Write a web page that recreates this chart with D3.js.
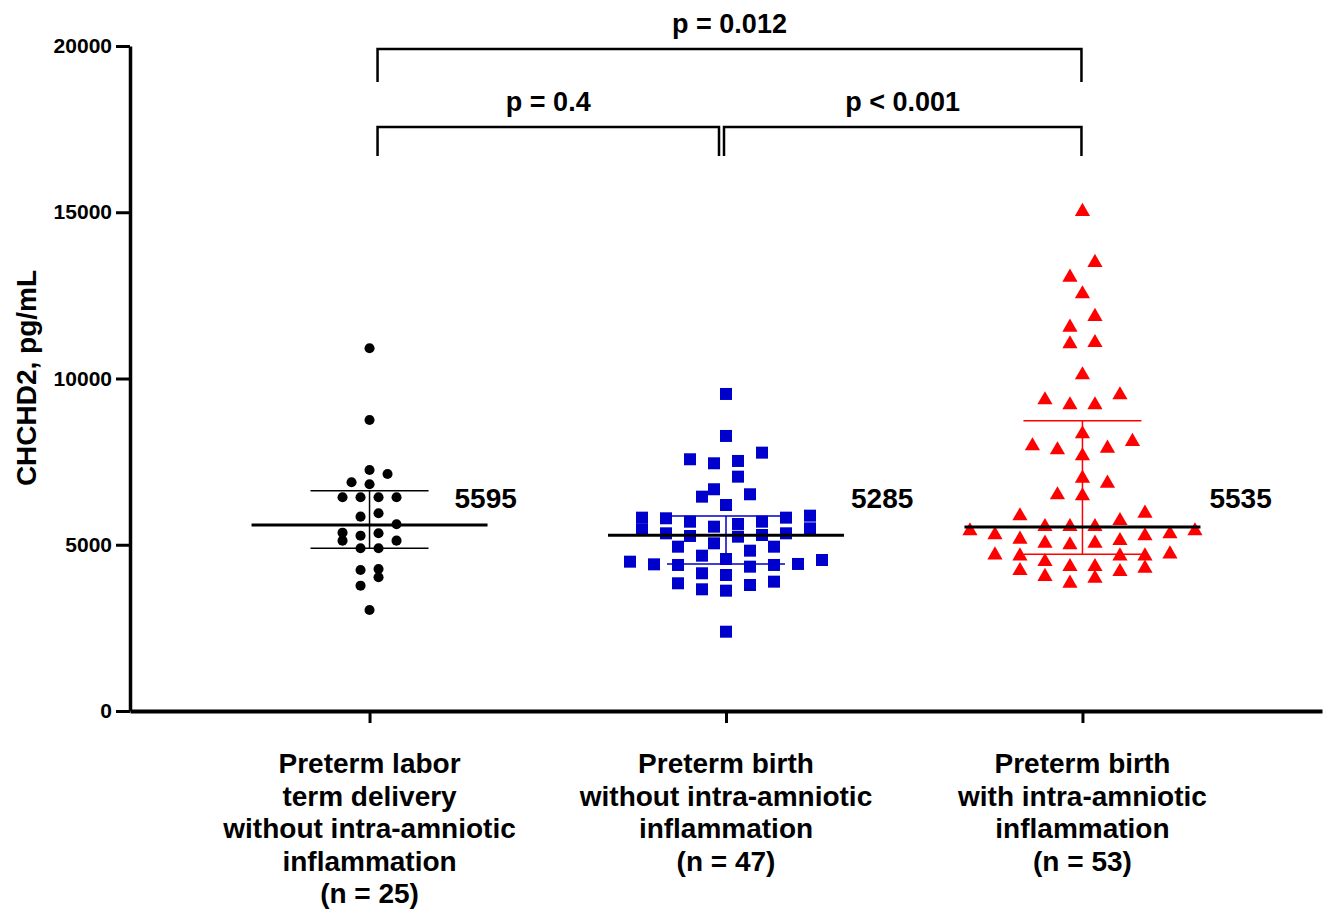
<!DOCTYPE html>
<html>
<head>
<meta charset="utf-8">
<script src="https://cdn.jsdelivr.net/npm/d3@7"></script>
<style>
  body { margin: 0; background: #fff; }
  text { font-family: "Liberation Sans", Arial, sans-serif; font-weight: bold; fill: #000; }
</style>
</head>
<body>
<div id="svg"></div>
<script>
// groups on the x axis
let groups = ['term', 'pretermNoIAI', 'pretermIAI'];
let groupLabels = [
  ['Preterm labor', 'term delivery', 'without intra-amniotic', 'inflammation', '(n = 25)'],
  ['Preterm birth', 'without intra-amniotic', 'inflammation', '(n = 47)'],
  ['Preterm birth', 'with intra-amniotic', 'inflammation', '(n = 53)']
];

// CHCHD2, pg/mL
let termValues = [10910, 8753, 7249, 7129, 6879, 6819, 6428, 6428, 6428, 6428,
  5947, 5845, 5616, 5363, 5345, 5273, 5123, 5123, 4894, 4894,
  4271, 4241, 4021, 3769, 3038];
let pretermNoIAIValues = [9535, 8272, 7770, 7571, 7520, 7450, 7048, 6669, 6518, 6446,
  6196, 5875, 5815, 5815, 5796, 5694, 5694, 5625, 5544, 5494,
  5464, 5344, 5344, 5294, 5264, 5243, 5043, 4942, 4942, 4822,
  4672, 4572, 4542, 4491, 4422, 4411, 4392, 4392, 4341, 4142,
  4091, 3890, 3841, 3790, 3660, 3619, 2385];
let pretermIAIValues = [15019, 13485, 13045, 12543, 11861, 11541, 11078, 11040, 10107, 9505,
  9355, 9204, 9204, 8332, 8101, 7971, 7901, 7851, 7670, 6999,
  6849, 6497, 6467, 5947, 5866, 5724, 5544, 5544, 5544, 5414,
  5414, 5324, 5294, 5264, 5163, 5123, 5043, 5043, 4993, 4722,
  4692, 4662, 4662, 4662, 4491, 4341, 4341, 4292, 4221, 4191,
  4041, 3991, 3841];

// median and interquartile range
let medians = [5595, 5285, 5535];
let q1 = [4894, 4422, 4713];
let q3 = [6627, 5866, 8732];

// comparisons
let comparisons = [
  {from: 0, to: 2, label: 'p = 0.012', level: 0},
  {from: 0, to: 1, label: 'p = 0.4', level: 1},
  {from: 1, to: 2, label: 'p < 0.001', level: 1}
];

let yTicks = [0, 5000, 10000, 15000, 20000];

function makeGraph(){
  let w = 1328;
  let h = 912;

  let svg = d3.select('#svg').append('svg').attr('width', w).attr('height', h);

  let yScale = d3.scaleLinear().domain([0, 20000]).range([711, 46]);
  let xScale = d3.scalePoint().domain(groups).range([130, 1322]).padding(0.672);

  let series = [
    {values: termValues, color: '#000000', symbol: d3.symbolCircle, size: 80, rowPx: 12, step: 18},
    {values: pretermNoIAIValues, color: '#0000CC', symbol: d3.symbolSquare, size: 144, rowPx: 15, step: 24},
    {values: pretermIAIValues, color: '#FF0000', symbol: d3.symbolTriangle, size: 100, rowPx: 16, step: 25}
  ];

  // scatter layout: bin points into rows, then spread each row from the centre outwards
  function layout(values, rowPx, step){
    let sorted = values.slice().sort((a, b) => a - b);
    let out = [];
    let i = 0;
    while (i < sorted.length) {
      let start = yScale(sorted[i]);
      let row = [];
      while (i < sorted.length && start - yScale(sorted[i]) < rowPx) { row.push(sorted[i]); i++; }
      let n = row.length;
      let slots = [];
      if (n % 2 === 1) {
        slots.push(0);
        for (let k = 1; slots.length < n; k++) { slots.push(-k, k); }
      } else {
        for (let k = 0.5; slots.length < n; k++) { slots.push(-k, k); }
      }
      row.forEach((v, j) => out.push({v: v, dx: slots[j] * step}));
    }
    return out;
  }

  series.forEach((s, gi) => {
    let cx = xScale(groups[gi]);
    let pts = layout(s.values, s.rowPx, s.step);
    svg.append('g').selectAll('path')
      .data(pts)
      .enter()
        .append('path')
        .attr('d', d3.symbol().type(s.symbol).size(s.size))
        .attr('transform', (d) => `translate(${cx + d.dx}, ${yScale(d.v)})`)
        .style('fill', s.color);
  });

  // median and IQR bars
  let labelDx = [85, 125, 127];
  series.forEach((s, gi) => {
    let cx = xScale(groups[gi]);
    let g = svg.append('g');
    g.append('line').attr('x1', cx).attr('x2', cx)
      .attr('y1', yScale(q3[gi])).attr('y2', yScale(q1[gi]))
      .style('stroke', s.color).style('stroke-width', 1.5);
    [q1[gi], q3[gi]].forEach((q) => {
      g.append('line').attr('x1', cx - 59).attr('x2', cx + 59)
        .attr('y1', yScale(q)).attr('y2', yScale(q))
        .style('stroke', s.color).style('stroke-width', 1.5);
    });
    g.append('line').attr('x1', cx - 118).attr('x2', cx + 118)
      .attr('y1', yScale(medians[gi])).attr('y2', yScale(medians[gi]))
      .style('stroke', '#000').style('stroke-width', 3);
    g.append('text')
      .attr('x', cx + labelDx[gi])
      .attr('y', 508)
      .style('font-size', '28px')
      .text(medians[gi]);
  });

  // axes
  let yAxis = d3.axisLeft(yScale).tickValues(yTicks).tickFormat(d3.format('d'))
    .tickSize(14).tickPadding(4).tickSizeOuter(0);
  let yAxisGroup = svg.append('g').attr('transform', 'translate(130, 0)').call(yAxis);
  yAxisGroup.select('.domain').style('stroke', '#000').style('stroke-width', 3.5);
  yAxisGroup.selectAll('.tick line').style('stroke', '#000').style('stroke-width', 3);
  yAxisGroup.selectAll('.tick text')
    .style('font-size', '21px').style('font-family', '"Liberation Sans", Arial, sans-serif')
    .style('font-weight', 'bold').attr('fill', '#000');

  let xAxis = d3.axisBottom(xScale).tickSize(12).tickSizeOuter(0).tickFormat('');
  let xAxisGroup = svg.append('g').attr('transform', 'translate(0, 711)').call(xAxis);
  xAxisGroup.select('.domain').style('stroke', '#000').style('stroke-width', 4);
  xAxisGroup.selectAll('.tick line').style('stroke', '#000').style('stroke-width', 3);

  groupLabels.forEach((lines, gi) => {
    let t = svg.append('text')
      .attr('text-anchor', 'middle')
      .style('font-size', '28px');
    lines.forEach((line, li) => {
      t.append('tspan')
        .attr('x', xScale(groups[gi]))
        .attr('y', 773 + li * 32.5)
        .text(line);
    });
  });

  svg.append('text')
    .attr('transform', 'rotate(-90)')
    .attr('x', -378)
    .attr('y', 36)
    .attr('text-anchor', 'middle')
    .style('font-size', '28px')
    .text('CHCHD2, pg/mL');

  // significance brackets
  let levelY = [49, 127];
  let legEnd = [82, 156];
  comparisons.forEach((c) => {
    let x1 = xScale(groups[c.from]) + (c.from === 0 ? 8 : -2);
    let x2 = xScale(groups[c.to]) + (c.to === 1 ? -7 : -1);
    let y = levelY[c.level];
    svg.append('path')
      .attr('d', `M${x1},${legEnd[c.level]}V${y}H${x2}V${legEnd[c.level]}`)
      .style('fill', 'none').style('stroke', '#000').style('stroke-width', 2.5);
    svg.append('text')
      .attr('x', (x1 + x2) / 2)
      .attr('y', y - 16)
      .attr('text-anchor', 'middle')
      .style('font-size', '27px')
      .text(c.label);
  });
}

window.onload = function(){
  makeGraph();
}
</script>
</body>
</html>
